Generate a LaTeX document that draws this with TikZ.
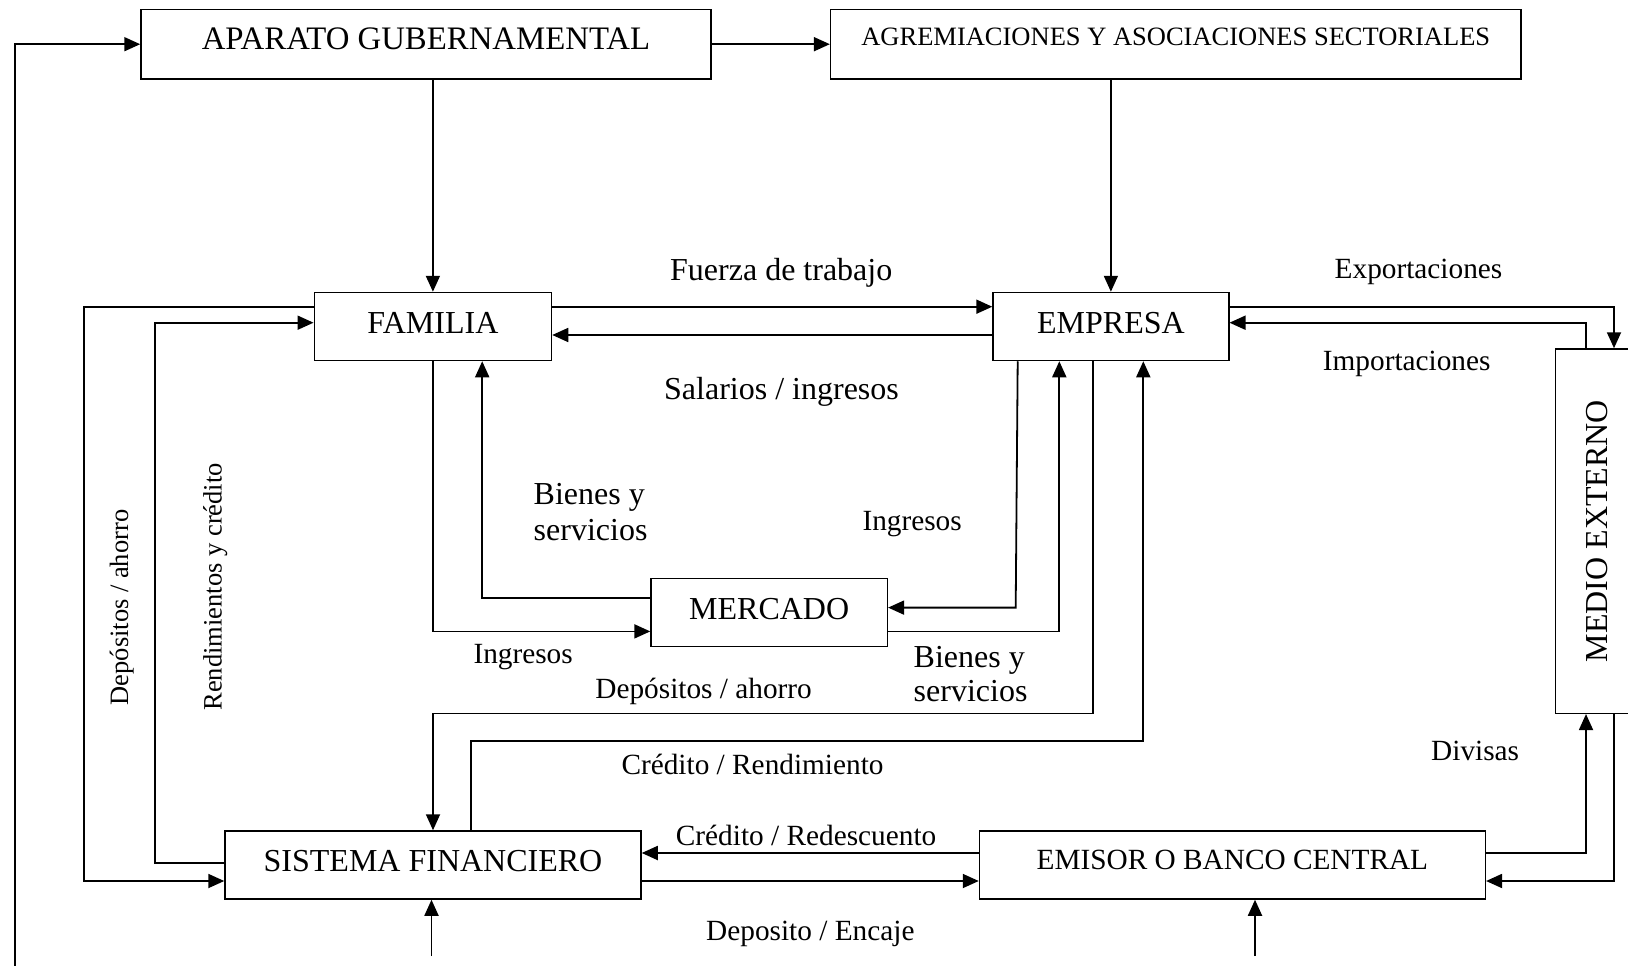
\documentclass[tikz,border=0pt]{standalone}
\usepackage{fontspec}
\setmainfont{Liberation Serif}
\usetikzlibrary{arrows.meta,calc}
\newcommand\fgov{\fontsize{32.8pt}{38pt}\selectfont}
\newcommand\fbig{\fontsize{32pt}{37pt}\selectfont}
\newcommand\fmid{\fontsize{29.3pt}{34pt}\selectfont}
\newcommand\fsmall{\fontsize{26.5pt}{31pt}\selectfont}
\begin{document}
\begin{tikzpicture}[x=1pt,y=-1pt,
  box/.style={draw, line width=1.5pt, inner sep=0pt},
  conn/.style={line width=1.8pt, -{Triangle[length=16pt,width=14pt]}},
  lbl/.style={anchor=base west, inner sep=0pt},
  vlbl/.style={anchor=base, inner sep=0pt, rotate=90, font=\fsmall}]
\clip (0,0) rectangle (1628,966);
\fill[white] (0,0) rectangle (1628,966);

% boxes
\node[box, font=\fgov, minimum width=570pt, minimum height=69.7pt, text height=21.4pt, text depth=10.1pt] (gov) at (426,44.2) {APARATO GUBERNAMENTAL};
\node[box, font=\fsmall, minimum width=690.4pt, minimum height=69.7pt, text height=17.4pt, text depth=14.4pt] (agrem) at (1175.8,44.2) {AGREMIACIONES Y ASOCIACIONES SECTORIALES};
\node[box, font=\fbig, minimum width=237.2pt, minimum height=68pt, text height=21pt, text depth=7.4pt] (fam) at (432.9,326.5) {FAMILIA};
\node[box, font=\fbig, minimum width=235.7pt, minimum height=68pt, text height=21pt, text depth=7.4pt] (emp) at (1110.9,326.5) {EMPRESA};
\node[box, font=\fbig, minimum width=236.3pt, minimum height=68pt, text height=21pt, text depth=8pt] (merc) at (769.2,612.5) {MERCADO};
\node[box, font=\fbig, minimum width=416pt, minimum height=68pt, text height=21pt, text depth=8.4pt] (sis) at (433,865) {SISTEMA FINANCIERO};
\node[box, font=\fmid, minimum width=505.8pt, minimum height=68pt, text height=19.2pt, text depth=9.4pt] (emi) at (1232.4,865) {EMISOR O BANCO CENTRAL};
\node[box, font=\fbig, minimum width=83.6pt, minimum height=364.3pt] (med) at (1597.3,531.15) {\rotatebox{90}{MEDIO EXTERNO}};

% helper coordinates
\coordinate (y306) at (0,306.7);
\coordinate (y322) at (0,322.7);
\coordinate (y335) at (0,335);
\coordinate (y598) at (0,597.8);
\coordinate (y631) at (0,631.4);
\coordinate (y713) at (0,713.4);
\coordinate (y741) at (0,741);
\coordinate (y853) at (0,853);
\coordinate (y863) at (0,863);
\coordinate (y881) at (0,881);
\coordinate (xE) at (1614,0);
\coordinate (xI) at (1586,0);
\coordinate (x84) at (83.7,0);
\coordinate (x155) at (154.8,0);
\coordinate (x482) at (482.2,0);
\coordinate (x471) at (470.7,0);
\coordinate (x1017) at (1017.7,0);
\coordinate (x1059) at (1059.3,0);
\coordinate (x1093) at (1093.3,0);
\coordinate (x1143) at (1143.3,0);
\coordinate (lb) at (14.6,966);
\coordinate (ic) at (1015.7,607.6);
\coordinate (b1) at (431.5,956);
\coordinate (b2) at (1255,956);

% connectors
\draw[conn] (lb) |- (gov.west);
\draw[conn] (gov) -- (agrem);
\draw[conn] (gov.south -| fam.north) -- (fam.north);
\draw[conn] (agrem.south -| emp.north) -- (emp.north);
\draw[conn] (fam.east |- y306) -- (emp.west |- y306);
\draw[conn] (emp.west |- y335) -- (fam.east |- y335);
\draw[conn] (emp.east |- y306) -| (xE |- med.north);
\draw[conn] (xI |- med.north) |- (emp.east |- y322);
\draw[conn] (fam.south) |- (merc.west |- y631);
\draw[conn] (merc.west |- y598) -| (x482 |- fam.south);
\draw[conn] (x1017 |- emp.south) -- (ic) -- (merc.east |- ic);
\draw[conn] (merc.east |- y631) -| (x1059 |- emp.south);
\draw[conn] (x1093 |- emp.south) |- (y713 -| sis.north) -- (sis.north);
\draw[conn] (x471 |- sis.north) |- (x1143 |- y741) -- (x1143 |- emp.south);
\draw[conn] (fam.west |- y306) -| (x84 |- y881) -- (sis.west |- y881);
\draw[conn] (sis.west |- y863) -| (x155 |- y322) -- (fam.west |- y322);
\draw[conn] (emi.west |- y853) -- (sis.east |- y853);
\draw[conn] (sis.east |- y881) -- (emi.west |- y881);
\draw[conn] (emi.east |- y853) -| (xI |- med.south);
\draw[conn] (xE |- med.south) |- (emi.east |- y881);
\draw[conn] (b1) -- (b1 |- sis.south);
\draw[conn] (b2) -- (b2 |- emi.south);

% labels
\node[lbl, font=\fbig] (lfuerza) at (670,280) {Fuerza de trabajo};
\node[lbl, font=\fbig] (lsal) at (664,399) {Salarios / ingresos};
\node[lbl, font=\fmid] (lexp) at (1334.5,278.3) {Exportaciones};
\node[lbl, font=\fmid] (limp) at (1322.7,370) {Importaciones};
\node[lbl, font=\fbig] (lbs1) at (533.5,504.7) {Bienes y};
\node[lbl, font=\fbig] (lbs2) at (533.5,540.3) {servicios};
\node[lbl, font=\fmid] (ling1) at (862.3,530) {Ingresos};
\node[lbl, font=\fbig] (lbr1) at (913.5,667) {Bienes y};
\node[lbl, font=\fbig] (lbr2) at (913.5,701.4) {servicios};
\node[lbl, font=\fmid] (ling2) at (473.3,663.5) {Ingresos};
\node[lbl, font=\fmid] (ldep) at (595.2,698.9) {Depósitos / ahorro};
\node[lbl, font=\fmid] (lcredr) at (621.3,774.4) {Crédito / Rendimiento};
\node[lbl, font=\fmid] (lcredd) at (675.7,845.8) {Crédito / Redescuento};
\node[lbl, font=\fmid] (lenc) at (706,940.4) {Deposito / Encaje};
\node[lbl, font=\fmid] (ldiv) at (1431,760.3) {Divisas};
\node[vlbl] (ldepv) at (128,607.5) {Depósitos / ahorro};
\node[vlbl] (lrend) at (221.5,586.8) {Rendimientos y crédito};
\end{tikzpicture}
\end{document}
